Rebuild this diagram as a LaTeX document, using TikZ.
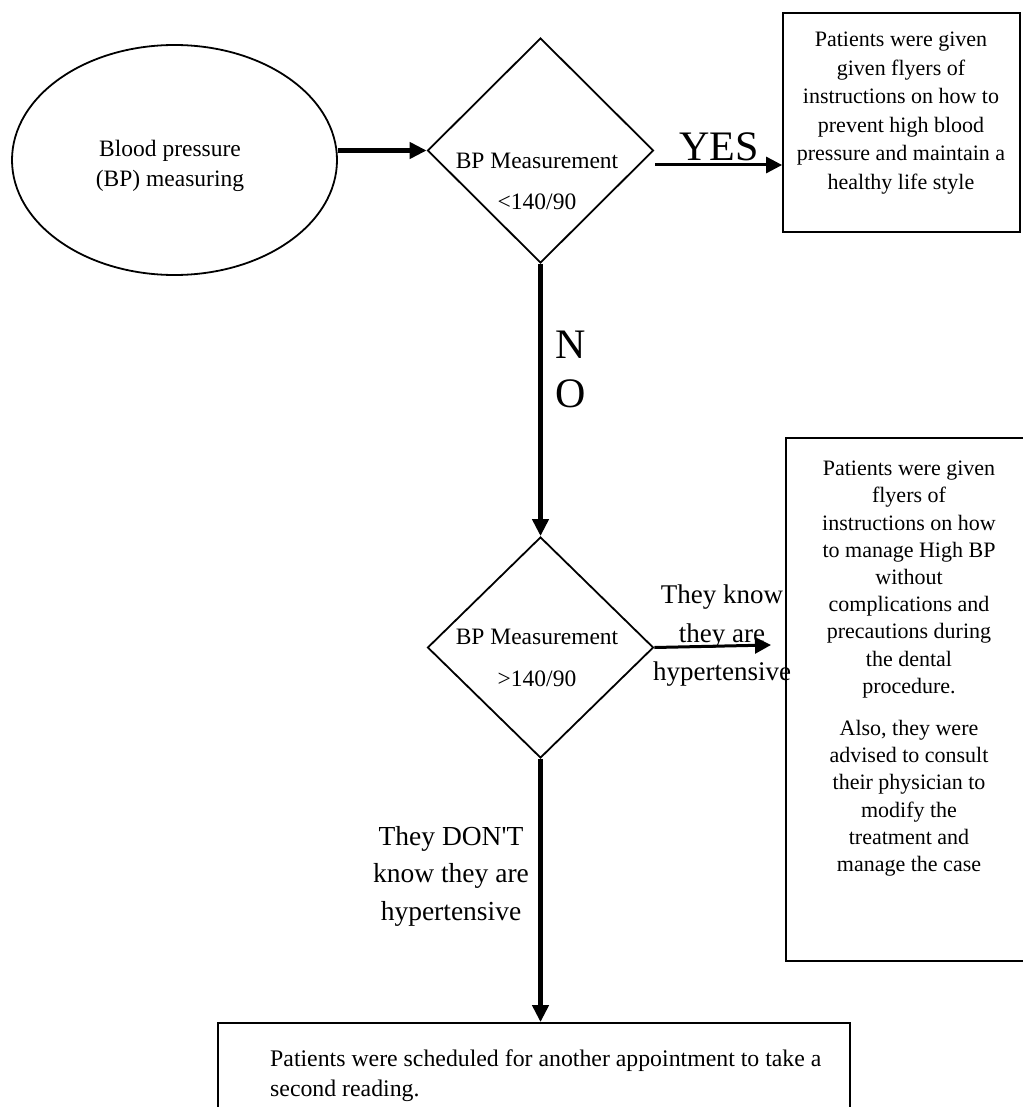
\documentclass[tikz,border=0pt]{standalone}
\usepackage{fontspec}
\setmainfont{Liberation Serif}
\usetikzlibrary{shapes.geometric,arrows.meta}
\begin{document}
\begin{tikzpicture}[x=1pt,y=-1pt,
  shapeline/.style={draw=black,line width=1.8pt},
  thickarrow/.style={line width=5pt,-{Triangle[length=17pt,width=16pt]}},
  thinarrow/.style={line width=3pt,-{Triangle[length=16pt,width=16pt]}},
  txt/.style={font=\fontsize{22}{28.5}\selectfont,align=center,inner sep=0pt},
  lbl/.style={font=\fontsize{27}{38.5}\selectfont,align=center,inner sep=0pt},
  big/.style={font=\fontsize{42}{48}\selectfont,inner sep=0pt}]
\useasboundingbox (0,0) rectangle (1022,1107);
\fill[white] (0,0) rectangle (1022,1107);
% shapes
\node[shapeline,ellipse,minimum width=325pt,minimum height=230pt,inner sep=0pt] (e) at (174.5,160) {};
\node[txt,font=\fontsize{23.5}{30}\selectfont] (et) at (170,166) {Blood pressure\\(BP) measuring};
\node[shapeline,diamond,minimum width=226pt,minimum height=225pt,inner sep=0pt] (d1) at (540.5,150.5) {};
\node[txt,font=\fontsize{23.5}{41}\selectfont] (d1t) at (537,181) {BP Measurement\\<140/90};
\node[shapeline,rectangle,minimum width=237pt,minimum height=219pt,inner sep=0pt] (b1) at (901.5,122.5) {};
\node[txt] (b1t) at (901,113) {Patients were given\\given flyers of\\instructions on how to\\prevent high blood\\pressure and maintain a\\healthy life style};
\node[shapeline,diamond,minimum width=226pt,minimum height=221pt,inner sep=0pt] (d2) at (540.5,647.5) {};
\node[txt,font=\fontsize{23.5}{42}\selectfont] (d2t) at (537,658) {BP Measurement\\>140/90};
\node[shapeline,rectangle,minimum width=250pt,minimum height=523pt,inner sep=0pt] (b2) at (911,699.5) {};
\node[txt,font=\fontsize{22}{27.2}\selectfont,anchor=north] (b2t) at (909,461) {Patients were given\\flyers of\\instructions on how\\to manage High BP\\without\\complications and\\precautions during\\the dental\\procedure.\\[15pt]Also, they were\\advised to consult\\their physician to\\modify the\\treatment and\\manage the case};
\node[shapeline,rectangle,minimum width=632pt,minimum height=120pt,inner sep=0pt] (b3) at (534,1083) {};
\node[txt,font=\fontsize{23.8}{29.5}\selectfont,align=left,anchor=north west] (b3t) at (270,1050) {Patients were scheduled for another appointment to take a\\second reading.};
% connectors
\draw[thickarrow] (e.east |- d1.west) -- (d1.west);
\coordinate (yesstart) at (655,165);
\draw[thinarrow] (yesstart) -- (yesstart -| b1.west);
\node[big] (yes) at (719,147) {YES};
\draw[thickarrow] (d1.south) -- (d2.north);
\node[big] (n) at (571,345) {N};
\node[big] (o) at (571,394) {O};
\coordinate (knowend) at (771,645);
\draw[thinarrow] (d2.east) -- (knowend);
\node[lbl] (know) at (722,636) {They know\\they are\\hypertensive};
\draw[thickarrow] (d2.south) -- (d2.south |- b3.north);
\node[lbl,font=\fontsize{27.5}{37.5}\selectfont] (dont) at (451,876) {They DON\textquotesingle T\\know they are\\hypertensive};
\end{tikzpicture}
\end{document}
